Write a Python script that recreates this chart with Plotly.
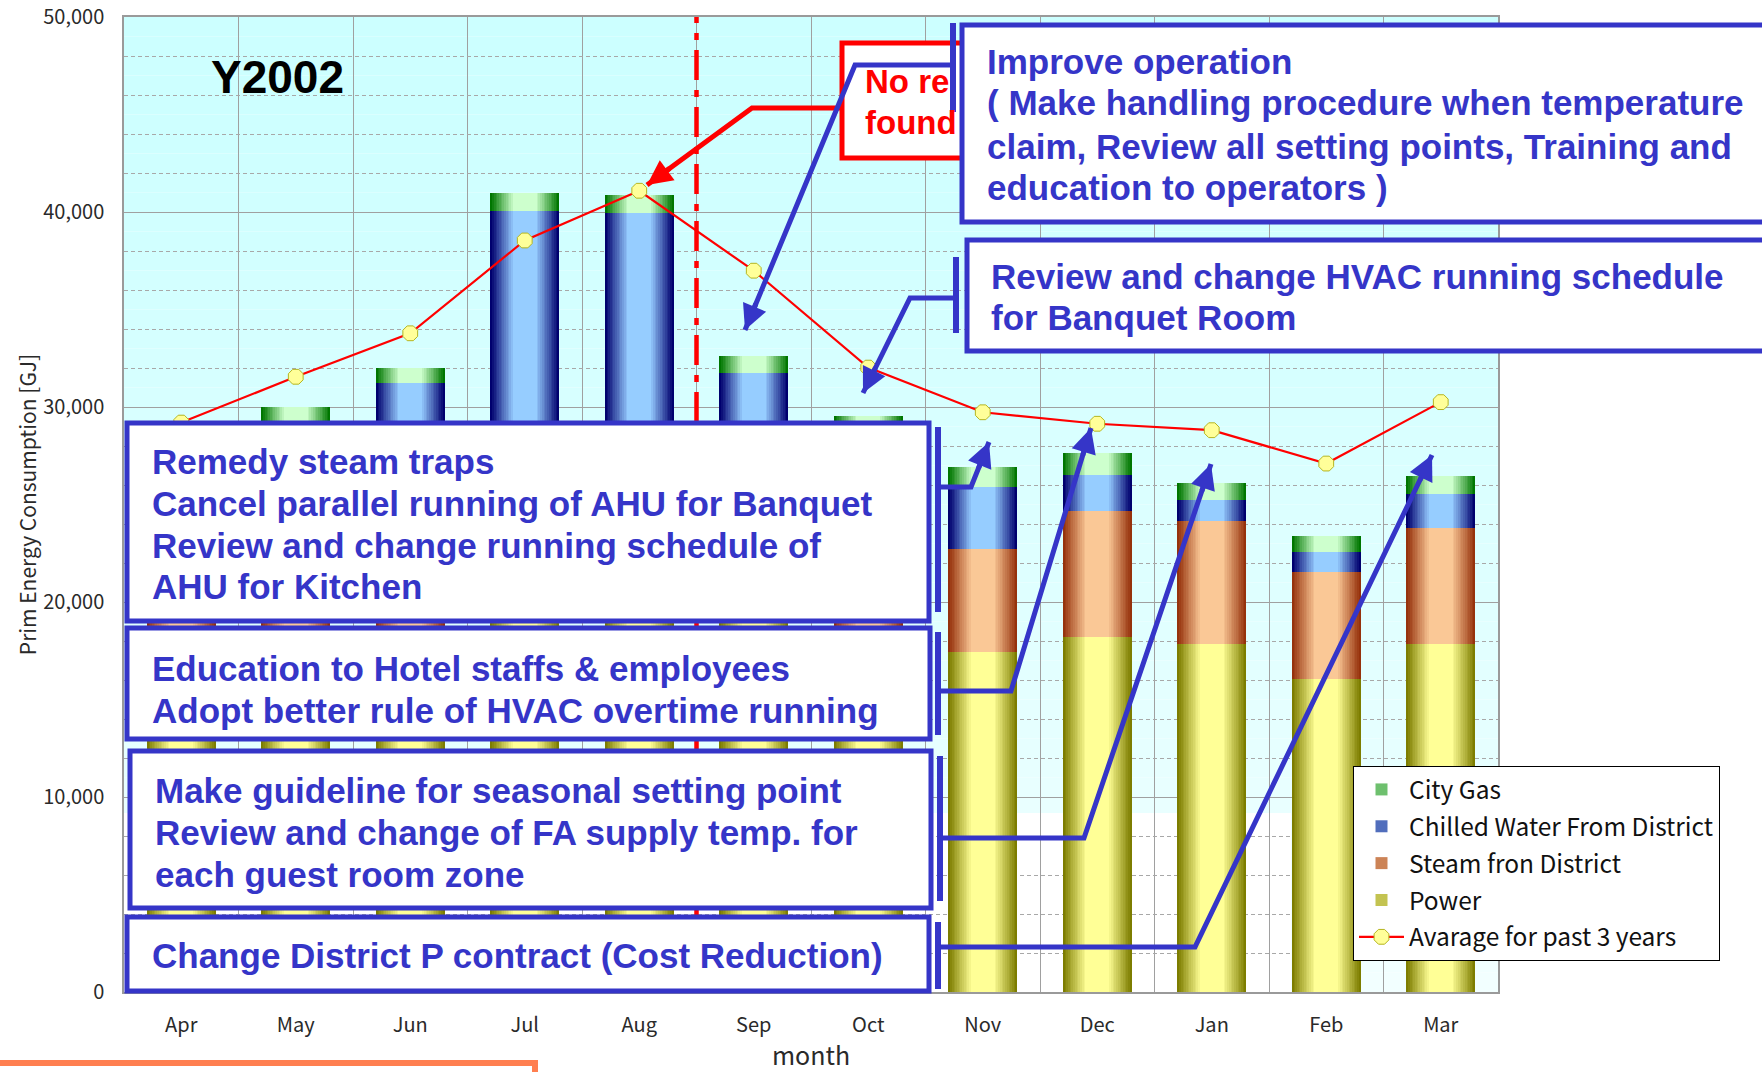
import plotly.graph_objects as go

# ---------------- data ----------------
months = ["Apr", "May", "Jun", "Jul", "Aug", "Sep", "Oct", "Nov", "Dec", "Jan", "Feb", "Mar"]
power = [17000, 17500, 18000, 19500, 19800, 19000, 17800, 17430, 18210, 17860, 16070, 17860]
steam = [6500, 4500, 3200, 1800, 1700, 2200, 4000, 5310, 6460, 6300, 5480, 5950]
chilled = [2600, 6800, 10010, 18770, 18430, 10560, 6800, 3140, 1840, 1080, 1000, 1720]
city_gas = [1300, 1200, 770, 920, 940, 860, 920, 1040, 1140, 840, 840, 910]
avg_3y = [29200, 31550, 33780, 38540, 41090, 36990, 32020, 29730, 29140, 28810, 27100, 30250]

y_ticks = [0, 10000, 20000, 30000, 40000, 50000]

# ---------------- geometry helpers ----------------
FIG_W, FIG_H = 1762, 1072
M_L, M_R, M_T, M_B = 124, 264, 17, 80
PW = FIG_W - M_L - M_R
PH = FIG_H - M_T - M_B


def px(x):
    return (x - M_L) / PW


def py(y):
    return (FIG_H - M_B - y) / PH


def lerp(c1, c2, t):
    return "rgb(%d,%d,%d)" % tuple(round(a + (b - a) * t) for a, b in zip(c1, c2))


xs = list(range(len(months)))
BW = 0.6
NSTEP = 14

base_steam = power
base_chilled = [p + s for p, s in zip(power, steam)]
base_gas = [p + s + c for p, s, c in zip(power, steam, chilled)]
zeros = [0] * len(months)

series = [
    ("City Gas", city_gas, base_gas, (0, 118, 0), (205, 255, 205)),
    ("Chilled Water From District", chilled, base_chilled, (0, 0, 110), (150, 205, 255)),
    ("Steam fron District", steam, base_steam, (150, 50, 12), (250, 200, 150)),
    ("Power", power, zeros, (125, 125, 0), (255, 255, 150)),
]

fig = go.Figure()
for name, vals, base, edge, center in series:
    for k in range(NSTEP):
        t = k / (NSTEP - 1)
        w = BW * (1 - 0.65 * t)
        fig.add_trace(go.Bar(
            x=xs, y=vals, base=base, width=w,
            marker=dict(color=lerp(edge, center, t), line=dict(width=0)),
            name=name, legendgroup=name,
            showlegend=(k == NSTEP // 2),
            hoverinfo="skip" if k else None,
        ))

fig.add_trace(go.Scatter(
    x=xs, y=avg_3y, mode="lines+markers", name="Avarage for past 3 years",
    legendgroup="avg",
    line=dict(color="#ff0000", width=2.2),
    marker=dict(symbol="octagon", size=16, color="#ffff99",
                line=dict(color="#b5b520", width=1)),
))

# ---------------- shapes ----------------
shapes = []
# plot-area gradient background
NB = 50
for i in range(NB):
    t = i / (NB - 1)
    shapes.append(dict(type="rect", xref="paper", yref="paper", x0=0, x1=1,
                       y0=1 - (i + 1) / NB, y1=1 - i / NB, layer="below",
                       line=dict(width=0),
                       fillcolor=lerp((204, 255, 255), (242, 255, 255), t ** 1.3)))
# white patch in the lower-left of the plot area
shapes.append(dict(type="rect", xref="paper", yref="paper", x0=0, x1=px(1291),
                   y0=0, y1=py(813), layer="below", line=dict(width=0),
                   fillcolor="white"))

# red dash-dot separator between Aug and Sep
sep_x = months.index("Aug") + 0.5
shapes.append(dict(type="line", xref="x", yref="paper", x0=sep_x, x1=sep_x, y0=0, y1=1,
                   line=dict(color="#ff0000", width=4.5, dash="30px,10px,7px,10px")))

BLUE = "#3535c8"
RED = "#ff0000"


def rect(x0, y0, x1, y1, color, w=5):
    shapes.append(dict(type="rect", xref="paper", yref="paper",
                       x0=px(x0), x1=px(x1), y0=py(y1), y1=py(y0),
                       line=dict(color=color, width=w), fillcolor="white"))


def poly(points, color, w=5):
    d = "M " + " L ".join("%f,%f" % (px(a), py(b)) for a, b in points)
    shapes.append(dict(type="path", xref="paper", yref="paper", path=d,
                       line=dict(color=color, width=w)))


def vline(x, y0, y1, color=BLUE, w=6):
    poly([(x, y0), (x, y1)], color, w)


# red "No reduction found" box
rect(842, 43, 990, 158, RED, 5)

# blue boxes
rect(127, 423, 929, 621, BLUE)
rect(127, 628, 930, 739, BLUE)
rect(130, 751, 931, 908, BLUE)
rect(127, 917, 929, 991, BLUE)
rect(962, 25, 1790, 222, BLUE)
rect(967, 240, 1790, 351, BLUE)

# brackets
vline(953, 23, 112)
vline(956, 257, 333)
vline(938, 427, 612)
vline(938, 632, 735)
vline(940, 756, 901)
vline(938, 922, 989)

# connector lines
arrows = [
    ([(842, 108), (752, 108), (647, 185)], RED),
    ([(950, 65), (855, 65), (745, 330)], BLUE),
    ([(956, 298), (910, 298), (863, 393)], BLUE),
    ([(938, 487), (971, 487), (989, 442)], BLUE),
    ([(938, 691), (1011, 691), (1091, 428)], BLUE),
    ([(940, 838), (1084, 838), (1211, 464)], BLUE),
    ([(938, 947), (1195, 947), (1432, 455)], BLUE),
]
for pts, col in arrows:
    poly(pts, col, 5)

# orange frame edge at the bottom
poly([(-10, 1063), (535, 1063), (535, 1090)], "#ff7f50", 6)

# ---------------- annotations ----------------
annotations = []
BOXFONT = dict(family="Liberation Sans, Arial, sans-serif", size=35, color=BLUE, weight="bold")


def text(x, y, s, font=BOXFONT, xanchor="left"):
    annotations.append(dict(xref="paper", yref="paper", x=px(x), y=py(y), text=s,
                            showarrow=False, xanchor=xanchor, yanchor="middle",
                            font=font))


for y, s in zip([461, 503, 545, 587], ["Remedy steam traps",
                                       "Cancel parallel running of AHU for Banquet",
                                       "Review and change running schedule of",
                                       "AHU for Kitchen"]):
    text(150, y, s)
for y, s in zip([668, 710], ["Education to Hotel staffs &amp; employees",
                             "Adopt better rule of HVAC overtime running"]):
    text(150, y, s)
for y, s in zip([790, 832, 874], ["Make guideline for seasonal setting point",
                                  "Review and change of FA supply temp. for",
                                  "each guest room zone"]):
    text(153, y, s)
text(150, 955, "Change District P contract (Cost Reduction)")
for y, s in zip([62, 103, 146, 188], ["Improve operation",
                                      "( Make handling procedure when temperature",
                                      "claim, Review all setting points, Training and",
                                      "education to operators )"]):
    text(985, y, s)
for y, s in zip([276, 318], ["Review and change HVAC running schedule",
                             "for Banquet Room"]):
    text(989, y, s)

REDFONT = dict(family="Liberation Sans, Arial, sans-serif", size=33, color=RED, weight="bold")
text(863, 82, "No re", REDFONT)
text(863, 123, "found", REDFONT)

text(277, 77, "Y2002", dict(family="Liberation Sans, Arial, sans-serif", size=46,
                            color="black", weight="bold"), xanchor="center")

# arrowheads
for pts, col in arrows:
    (x0, y0), (x1, y1) = pts[-2], pts[-1]
    dx, dy = x0 - x1, y0 - y1
    ln = (dx * dx + dy * dy) ** 0.5
    annotations.append(dict(xref="paper", yref="paper", x=px(x1), y=py(y1), text="",
                            showarrow=True, arrowhead=2, arrowsize=1.0, arrowwidth=5,
                            arrowcolor=col, ax=dx / ln * 30, ay=dy / ln * 30, standoff=0))

# ---------------- layout ----------------
CJK = "Noto Sans CJK JP, sans-serif"
TICKFONT = dict(family=CJK, size=20, color="#2a2a2a")
fig.update_layout(
    width=FIG_W, height=FIG_H,
    margin=dict(l=M_L, r=M_R, t=M_T, b=M_B, autoexpand=False),
    paper_bgcolor="white", plot_bgcolor="rgba(0,0,0,0)",
    barmode="overlay", bargap=0,
    showlegend=True,
    legend=dict(x=px(1353), y=py(766), xanchor="left", yanchor="top",
                bgcolor="white", bordercolor="#000", borderwidth=1,
                font=dict(family=CJK, size=24.5, color="#111"),
                traceorder="grouped", tracegroupgap=2, itemwidth=45),
    xaxis=dict(range=[-0.5, len(months) - 0.5], tickmode="array", tickvals=xs,
               ticktext=months, showgrid=False, zeroline=False,
               showline=True, mirror=True, linecolor="#9a9a9a", linewidth=1.5,
               ticks="", tickfont=TICKFONT, ticklabelstandoff=14,
               minor=dict(tickmode="array", tickvals=[i + 0.5 for i in xs[:-1]],
                          showgrid=True, gridcolor="#a0a0a0", gridwidth=1.2, ticks=""),
               title=dict(text="month", standoff=15,
                          font=dict(family=CJK, size=25, color="#2a2a2a"))),
    yaxis=dict(range=[0, 50000], tickmode="array", tickvals=y_ticks, tickformat=",",
               showgrid=True, gridcolor="#a0a0a0", gridwidth=1.3, zeroline=False,
               showline=True, mirror=True, linecolor="#9a9a9a", linewidth=1.5,
               ticks="", tickfont=TICKFONT, ticklabelstandoff=14,
               minor=dict(dtick=2000, showgrid=True, gridcolor="#a8a8a8",
                          griddash="4px,3px", gridwidth=1.2, ticks=""),
               title=dict(text="Prim Energy Consumption [GJ]", standoff=1,
                          font=dict(family=CJK, size=21, color="#2a2a2a"))),
    shapes=shapes,
    annotations=annotations,
)

fig.write_html("out.html",
               config={"displayModeBar": False},
               post_script="document.body.style.margin='0';"
                           "document.body.style.overflow='hidden';")
